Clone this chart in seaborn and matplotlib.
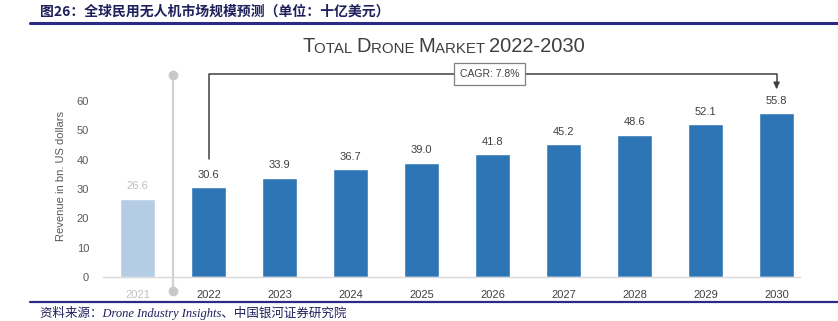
import matplotlib
matplotlib.use("Agg")
import matplotlib.pyplot as plt
import seaborn as sns
import pandas as pd

years = ["2021", "2022", "2023", "2024", "2025", "2026", "2027", "2028", "2029", "2030"]
revenue = [26.6, 30.6, 33.9, 36.7, 39.0, 41.8, 45.2, 48.6, 52.1, 55.8]
yticks = [0, 10, 20, 30, 40, 50, 60]
header = "图26：全球民用无人机市场规模预测（单位：十亿美元）"
source = "资料来源：Drone Industry Insights、中国银河证券研究院"
cagr = "CAGR: 7.8%"

sns.set_theme(style="white")
plt.rcParams['font.family'] = ['Liberation Sans', 'Noto Sans CJK SC', 'DejaVu Sans']

W, H = 838, 321
fig = plt.figure(figsize=(W / 100, H / 100), dpi=100)

def fx(px):
    return px / W

def fy(py):
    return 1 - py / H

# axes: left 103px, right 800px, bottom 277px, top 75px
ax = fig.add_axes([fx(103), fy(277), fx(800 - 103), (277 - 75) / H])

df = pd.DataFrame({"year": years, "rev": revenue})
palette = ["#B4CDE4"] + ["#2E75B6"] * (len(years) - 1)
sns.barplot(data=df, x="year", y="rev", hue="year", palette=palette, legend=False,
            width=0.49, ax=ax, saturation=1)

ax.set_xlim(-0.49, 9.33)
ax.set_ylim(0, 68.9)
ax.set_yticks(yticks)
ax.set_yticklabels([str(v) for v in yticks], fontsize=8, color="#595959")
ax.tick_params(axis="y", length=0, pad=10)
ax.tick_params(axis="x", length=0, pad=9)
for i, lab in enumerate(ax.get_xticklabels()):
    lab.set_fontsize(8)
    lab.set_color("#BFBFBF" if i == 0 else "#404040")
ax.set_xlabel("")
ax.set_ylabel("Revenue in bn. US dollars", fontsize=8, color="#595959", labelpad=8)
for s in ["top", "right", "left"]:
    ax.spines[s].set_visible(False)
ax.spines["bottom"].set_color("#D9D9D9")
ax.spines["bottom"].set_linewidth(1)

for i, v in enumerate(revenue):
    ax.text(i, v + 2.6, f"{v:.1f}", ha="center", va="bottom", fontsize=8,
            color="#BFBFBF" if i == 0 else "#404040")

# vertical separator between 2021 and 2022
sep_x = 0.49
ax.plot([sep_x, sep_x], [-4.8, 69], color="#D0D0D0", lw=1.6, clip_on=False, zorder=1)
ax.plot([sep_x, sep_x], [-4.8, 69], "o", color="#C8C8C8", ms=6, clip_on=False, zorder=2)

# CAGR bracket
top_y = 69.3
ax.plot([1, 1, 9, 9], [40.2, top_y, top_y, 65.2], color="#404040", lw=1.1,
        clip_on=False, zorder=3)
ax.annotate("", xy=(9, 63.2), xytext=(9, 66.0),
            arrowprops=dict(arrowstyle="-|>", color="#404040", lw=1.1,
                            mutation_scale=9), annotation_clip=False)
ax.text(4.96, top_y, cagr, ha="center", va="center", fontsize=7.5, color="#404040",
        bbox=dict(boxstyle="square,pad=0.55", fc="white", ec="#808080", lw=0.9),
        zorder=4, clip_on=False)

# small-caps title
tcol = "#3F3F3F"
big, small = 14.5, 10.8
t = fig.text(fx(302), fy(52), "T", fontsize=big, color=tcol, ha="left", va="baseline")
pieces = [("OTAL ", small), ("D", big), ("RONE ", small), ("M", big), ("ARKET ", small),
          ("2022-2030", big)]
prev = t
for txt, sz in pieces:
    prev = ax.annotate(txt, xy=(1, 0), xycoords=prev, xytext=(0, 0),
                       textcoords="offset points", fontsize=sz, color=tcol,
                       ha="left", va="bottom", annotation_clip=False)

# header
fig.text(fx(40), fy(12), header, fontsize=10, fontweight="bold", color="#1F1F5C",
         ha="left", va="center", family=['Noto Sans CJK SC', 'DejaVu Sans'])
fig.add_artist(plt.Line2D([fx(30), 1], [fy(23), fy(23)], color="#2B2B86", lw=2.2))

# footer
fig.add_artist(plt.Line2D([fx(30), 1], [fy(302), fy(302)], color="#2B2B86", lw=1.6))
fig.text(fx(40), fy(313), source, fontsize=9, style="italic", color="#1F1F5C",
         ha="left", va="center", family=['Liberation Serif', 'Noto Sans CJK SC'])

fig.savefig("out.png", dpi=100, facecolor="white")
